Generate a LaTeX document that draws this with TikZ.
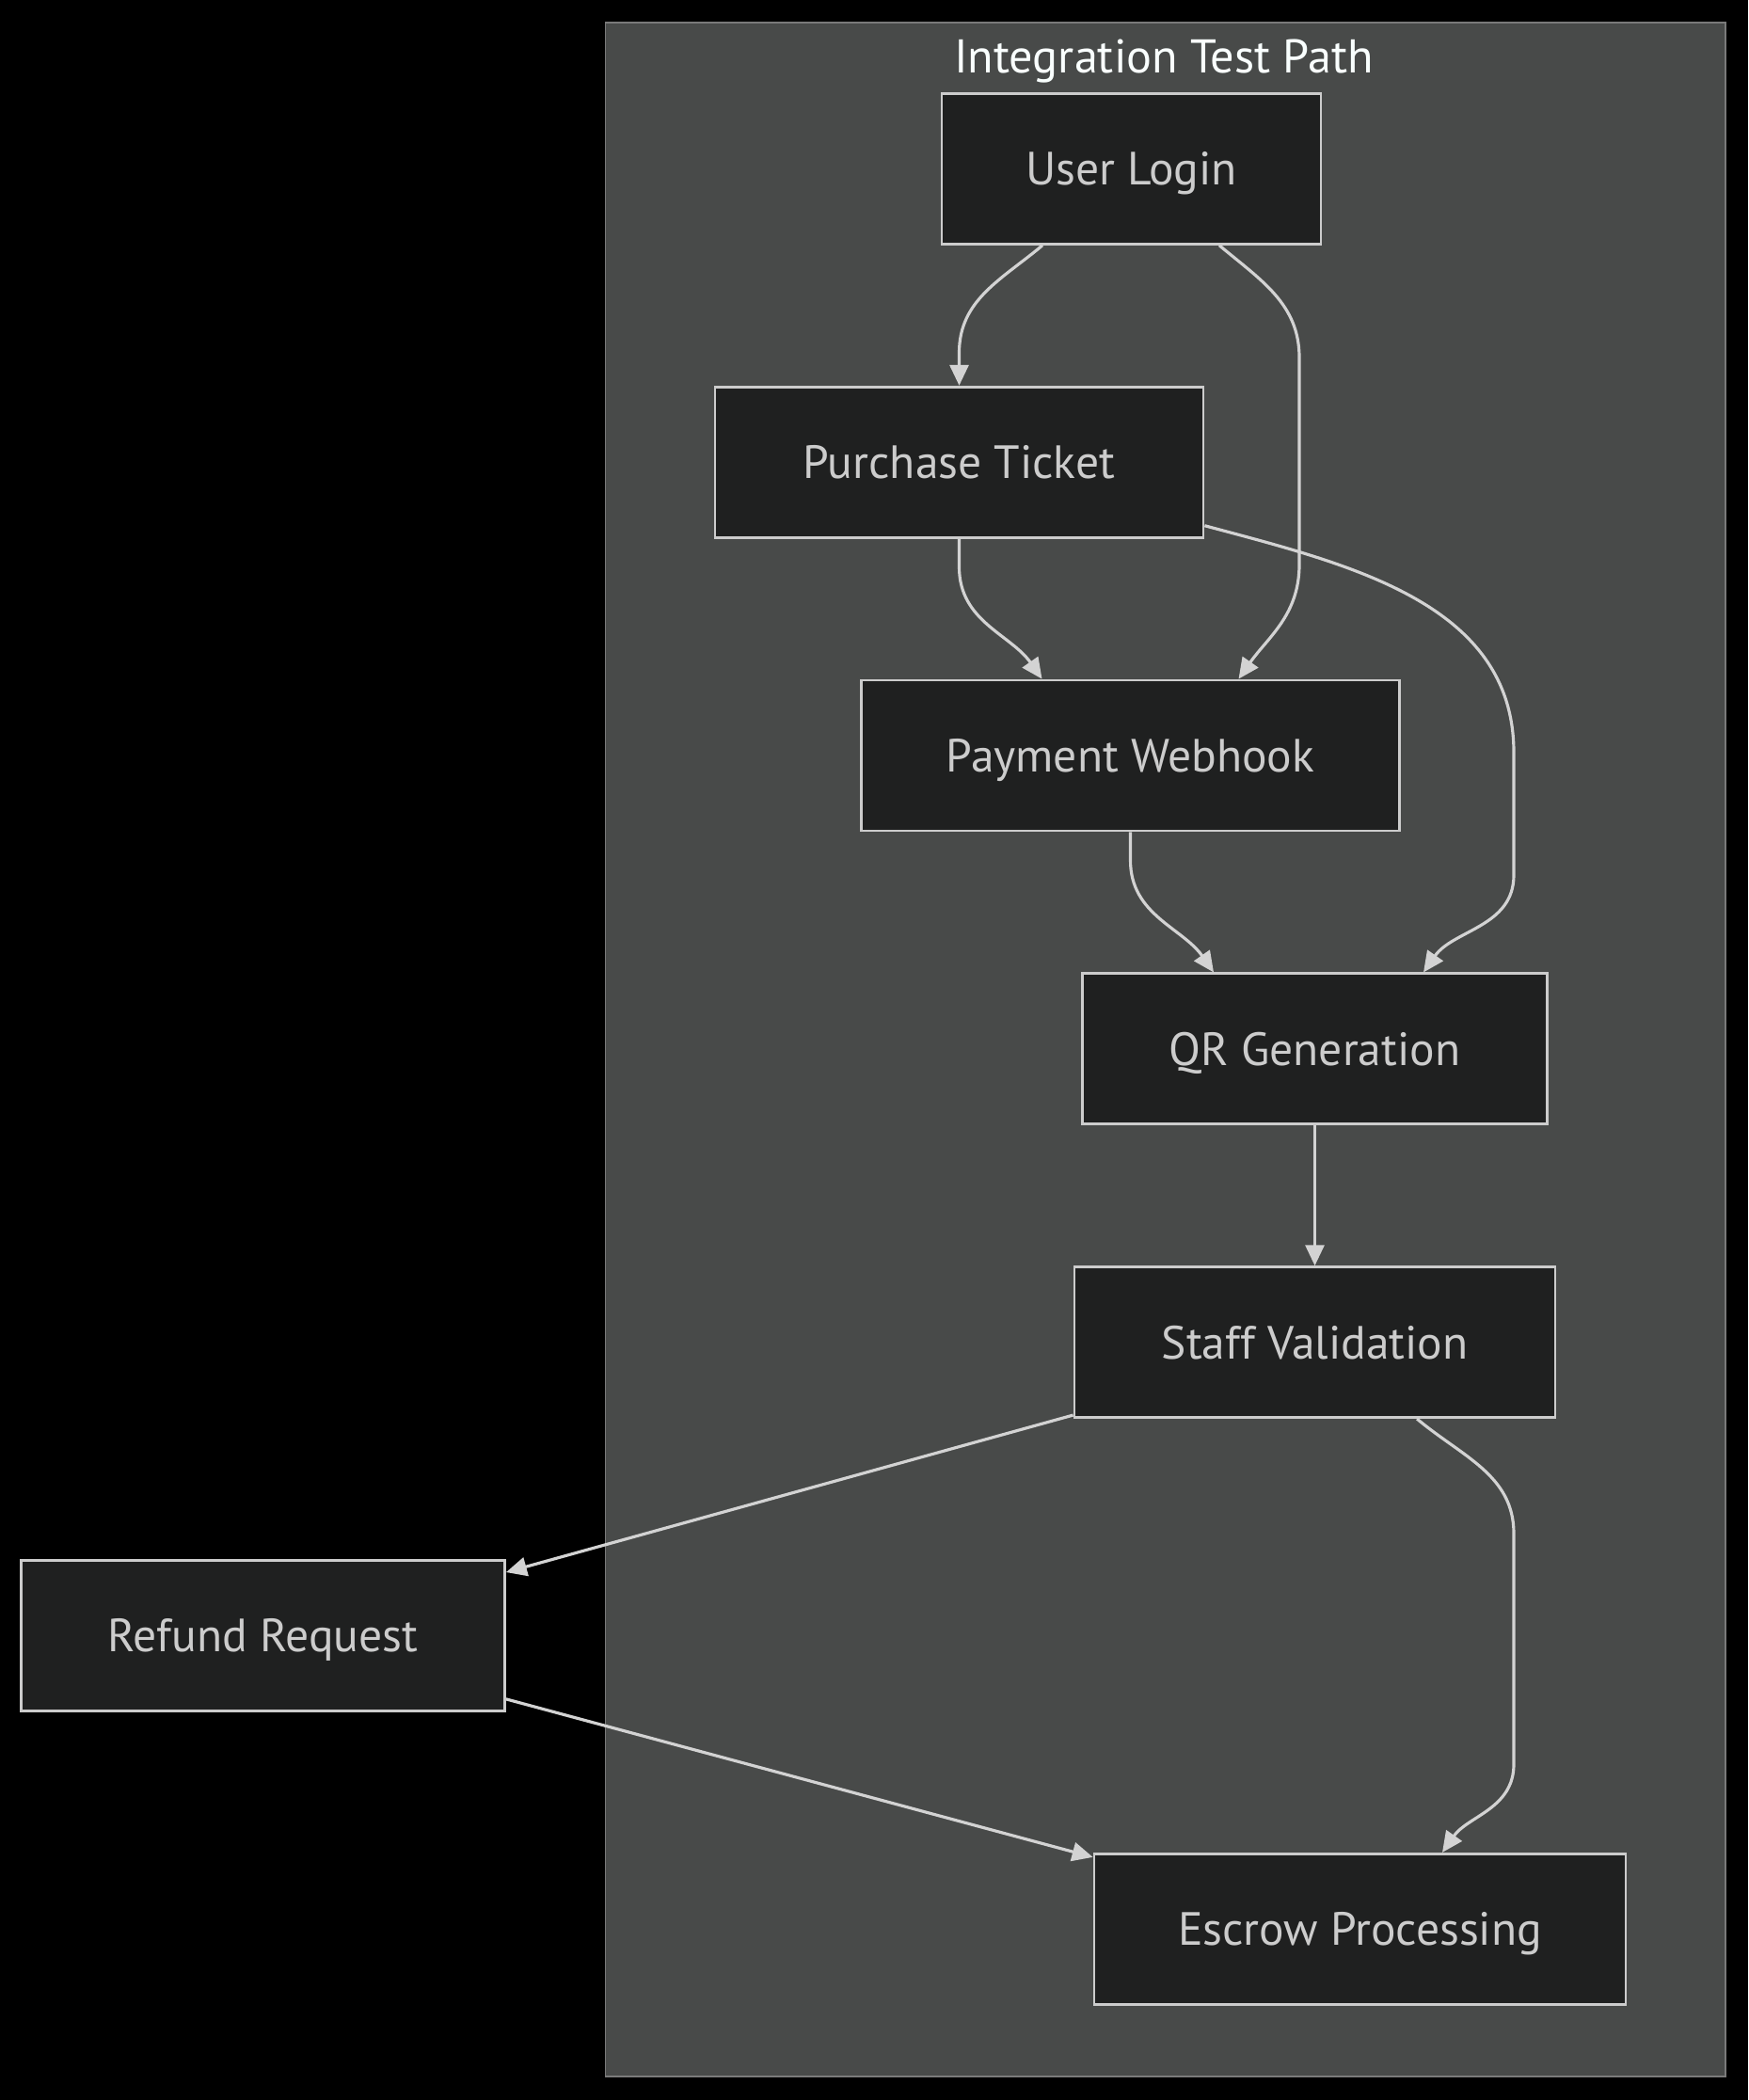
\documentclass[tikz,border=0pt]{standalone}
\usepackage{fontspec}
\setmainfont{PT Sans}
\usetikzlibrary{arrows.meta, positioning}
\definecolor{nodebg}{HTML}{1F2020}
\definecolor{nodeline}{HTML}{CCCCCC}
\definecolor{clusterbg}{HTML}{484A49}
\definecolor{clusterline}{HTML}{7A7A7A}
\definecolor{edgeline}{HTML}{D3D3D3}
\definecolor{titletext}{HTML}{F9FFFE}

\begin{document}
\begin{tikzpicture}[
    node distance=1.49cm,
    stepbox/.style={rectangle, minimum height=1.60cm, text height=0.35cm, text depth=0cm, draw=nodeline, line width=0.8pt, fill=nodebg, text=nodeline, font=\fontsize{14.1}{17}\selectfont},
    arrow/.style={line width=0.9pt, draw=edgeline, -{Triangle[length=0.22cm, width=0.2cm]}}
]
    \fill[black] (0,0) rectangle (18.58,-22.32);
    \useasboundingbox (0,0) rectangle (18.58,-22.32);
    \draw[fill=clusterbg, draw=clusterline, line width=0.5pt] (6.435,-0.242) rectangle (18.339,-22.069);
    \node[text=titletext, text height=0.35cm, text depth=0cm, font=\fontsize{14.3}{17}\selectfont] (title) at (12.37,-0.60) {Integration Test Path};
    \node[stepbox, minimum width=4.03cm] (login) at (12.025,-1.794) {User Login};
    \node[stepbox, minimum width=5.19cm, below=of login, xshift=-1.83cm] (purchase) {Purchase Ticket};
    \node[stepbox, minimum width=5.72cm, below=of purchase, xshift=1.82cm] (webhook) {Payment Webhook};
    \node[stepbox, minimum width=4.94cm, below=of webhook, xshift=1.96cm] (qrgen) {QR Generation};
    \node[stepbox, minimum width=5.11cm, below=of qrgen] (staff) {Staff Validation};
    \node[stepbox, minimum width=5.14cm, below=of staff, xshift=-11.18cm] (refund) {Refund Request};
    \node[stepbox, minimum width=5.65cm, below=of refund, xshift=11.66cm] (escrow) {Escrow Processing};
    \draw[arrow] ([xshift=-0.945cm]login.south) to[out=-140,in=90] ([yshift=0.35cm]purchase.north) -- (purchase.north);
    \draw[arrow] ([xshift=0.935cm]login.south) to[out=-40,in=90] (13.81,-3.8) -- (13.81,-6.0) to[out=-90,in=55] ([xshift=1.15cm]webhook.north);
    \draw[arrow] (purchase.south) -- ++(0,-0.3) to[out=-90,in=125] ([xshift=-0.94cm]webhook.north);
    \draw[arrow] ([yshift=-0.675cm]purchase.east) to[out=-15,in=90] (16.09,-8.0) -- (16.09,-9.3) to[out=-90,in=55] ([xshift=1.155cm]qrgen.north);
    \draw[arrow] (webhook.south) -- ++(0,-0.3) to[out=-90,in=125] ([xshift=-1.075cm]qrgen.north);
    \draw[arrow] (qrgen.south) -- (staff.north);
    \draw[arrow] ([yshift=0.04cm]staff.south west) -- ([yshift=-0.14cm]refund.north east);
    \draw[arrow] ([xshift=1.086cm]staff.south) to[out=-40,in=90] (16.09,-16.3) -- (16.09,-18.75) to[out=-90,in=55] ([xshift=0.875cm]escrow.north);
    \draw[arrow] ([yshift=0.14cm]refund.south east) -- ([yshift=-0.05cm]escrow.north west);
\end{tikzpicture}
\end{document}
